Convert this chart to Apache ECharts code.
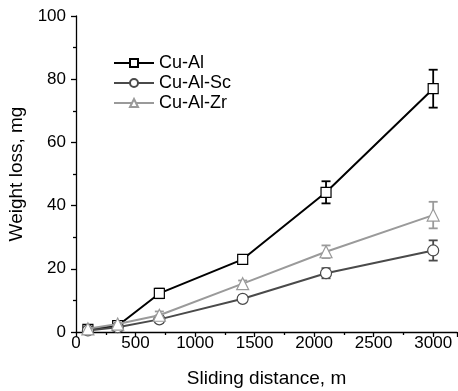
<!DOCTYPE html>
<html>
<head>
<meta charset="utf-8">
<script src="https://cdn.jsdelivr.net/npm/echarts@6/dist/echarts.min.js"></script>
<style>
  html, body { margin: 0; padding: 0; background: #fff; }
  #chart { width: 458px; height: 391px; }
</style>
</head>
<body>
<div id="chart"></div>
<script>
// Sliding distance (m) at which the samples were weighed
const distances = [100, 350, 700, 1400, 2100, 3000];

// Weight loss (mg) and its standard deviation for each alloy
const cuAl     = [0.8, 2.0, 12.2, 23.0, 44.2, 77.0];
const cuAlErr  = [0.5, 0.8, 1.5, 1.2, 3.5, 6.0];
const cuAlSc    = [0.5, 1.5, 4.0, 10.5, 18.6, 25.8];
const cuAlScErr = [0.4, 0.6, 1.0, 1.0, 1.6, 3.2];
const cuAlZr    = [1.0, 2.5, 5.3, 15.3, 25.4, 37.0];
const cuAlZrErr = [0.5, 0.7, 1.2, 1.0, 2.0, 4.2];

const seriesNames = ['Cu-Al', 'Cu-Al-Sc', 'Cu-Al-Zr'];
const colors = ['#000000', '#4a4a4a', '#9a9a9a'];
const symbols = ['rect', 'circle', 'triangle'];
const symbolSizes = [10, 11, 12];
const values = [cuAl, cuAlSc, cuAlZr];
const errors = [cuAlErr, cuAlScErr, cuAlZrErr];

const FONT = '"Liberation Sans", Arial, sans-serif';

const chart = echarts.init(document.getElementById('chart'), null, { renderer: 'canvas' });

const lineSeries = seriesNames.map((name, i) => ({
  name: name,
  type: 'line',
  data: distances.map((d, k) => [d, values[i][k]]),
  symbol: symbols[i],
  symbolSize: symbolSizes[i],
  showAllSymbol: true,
  lineStyle: { color: colors[i], width: 2 },
  itemStyle: { color: '#ffffff', borderColor: colors[i], borderWidth: 1.2 },
  z: 3 + i,
  animation: false
}));

// Vertical error bars with short caps
const errorSeries = seriesNames.map((name, i) => ({
  type: 'custom',
  name: name + ' err',
  data: distances.map((d, k) => [d, values[i][k] - errors[i][k], values[i][k] + errors[i][k]]),
  renderItem: function (params, api) {
    const x = api.value(0);
    const lo = api.coord([x, api.value(1)]);
    const hi = api.coord([x, api.value(2)]);
    const cap = 4.5;
    const style = { stroke: colors[i], lineWidth: 1.8 };
    return {
      type: 'group',
      children: [
        { type: 'line', shape: { x1: lo[0], y1: lo[1], x2: hi[0], y2: hi[1] }, style: style },
        { type: 'line', shape: { x1: lo[0] - cap, y1: lo[1], x2: lo[0] + cap, y2: lo[1] }, style: style },
        { type: 'line', shape: { x1: hi[0] - cap, y1: hi[1], x2: hi[0] + cap, y2: hi[1] }, style: style }
      ]
    };
  },
  z: 2,
  silent: true,
  animation: false
}));

chart.setOption({
  backgroundColor: '#ffffff',
  animation: false,
  textStyle: { fontFamily: FONT },
  grid: { left: 76, right: 1, top: 16, bottom: 59, containLabel: false, outerBoundsMode: 'none' },
  legend: {
    data: seriesNames,
    orient: 'vertical',
    left: 108,
    top: 49,
    itemWidth: 40,
    itemHeight: 10,
    itemGap: 2,
    textStyle: { fontSize: 18, color: '#000', fontFamily: FONT },
    selectedMode: false
  },
  xAxis: {
    type: 'value',
    min: 0,
    max: 3200,
    interval: 500,
    name: 'Sliding distance, m',
    nameLocation: 'middle',
    nameGap: 37,
    nameTextStyle: { fontSize: 19, color: '#000', fontFamily: FONT },
    axisLine: { show: true, lineStyle: { color: '#000', width: 1.3 } },
    axisTick: { show: true, inside: false, length: 5, lineStyle: { color: '#000', width: 1.3 } },
    minorTick: { show: true, splitNumber: 2, length: 3, lineStyle: { color: '#000', width: 1.3 } },
    axisLabel: {
      fontSize: 17, color: '#000', margin: 3, fontFamily: FONT,
      formatter: v => (v % 500 === 0 && v <= 3000 ? String(v) : '')
    },
    splitLine: { show: false }
  },
  yAxis: {
    type: 'value',
    min: 0,
    max: 100,
    interval: 20,
    name: 'Weight loss, mg',
    nameLocation: 'middle',
    nameGap: 50,
    nameTextStyle: { fontSize: 19, color: '#000', fontFamily: FONT },
    axisLine: { show: true, lineStyle: { color: '#000', width: 1.3 } },
    axisTick: { show: true, inside: false, length: 5, lineStyle: { color: '#000', width: 1.3 } },
    minorTick: { show: true, splitNumber: 2, length: 3, lineStyle: { color: '#000', width: 1.3 } },
    axisLabel: { fontSize: 17, color: '#000', margin: 10, fontFamily: FONT },
    splitLine: { show: false }
  },
  series: errorSeries.concat(lineSeries)
});
</script>
</body>
</html>
